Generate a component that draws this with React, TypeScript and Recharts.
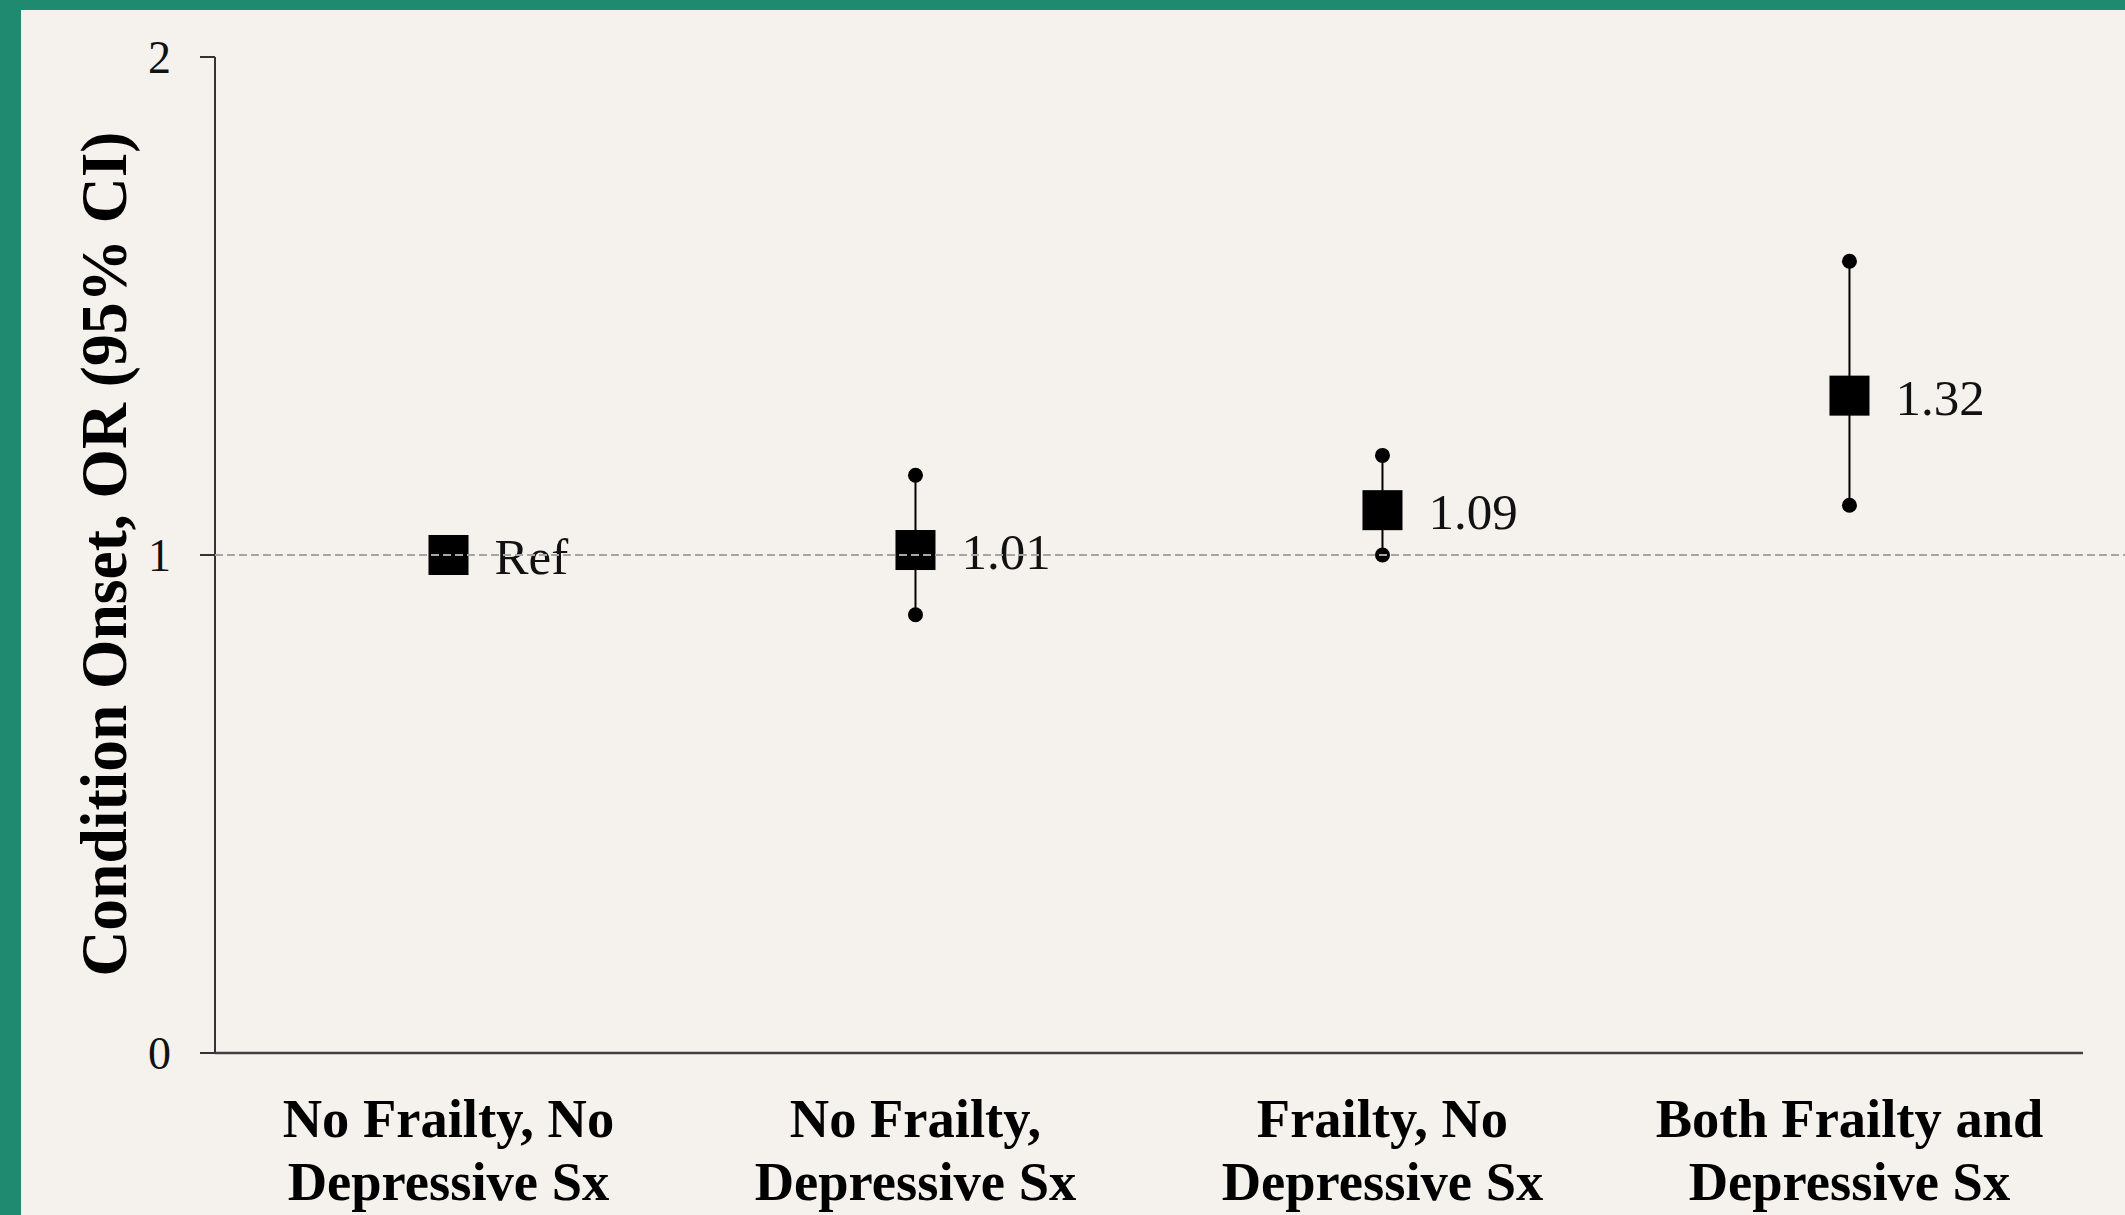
import React from 'react';
import { ScatterChart, Scatter, XAxis, YAxis, ReferenceLine, ErrorBar, Label } from 'recharts';

// ---- data ----
const categoryLine1 = ['No Frailty, No', 'No Frailty,', 'Frailty, No', 'Both Frailty and'];
const categoryLine2 = ['Depressive Sx', 'Depressive Sx', 'Depressive Sx', 'Depressive Sx'];
const oddsRatios = [1.0, 1.01, 1.09, 1.32];
const ciLower: (number | null)[] = [null, 0.88, 1.0, 1.1];
const ciUpper: (number | null)[] = [null, 1.16, 1.2, 1.59];
const pointLabels = ['Ref', '1.01', '1.09', '1.32'];
const yTicks = [0, 1, 2];
const yAxisTitle = 'Condition Onset, OR (95% CI)';
const referenceValue = 1;

// ---- derived tables ----
const categoryPos = categoryLine1.map((_, i) => i + 0.5);
const pointRows = oddsRatios.map((v, i) => ({ x: categoryPos[i], y: v, label: pointLabels[i] }));
const ciRows = oddsRatios
  .map((v, i) => ({
    x: categoryPos[i],
    y: v,
    err: ciLower[i] == null ? null : [v - (ciLower[i] as number), (ciUpper[i] as number) - v],
  }))
  .filter((r) => r.err != null);
const lowerRows = ciLower
  .map((v, i) => ({ x: categoryPos[i], y: v }))
  .filter((r) => r.y != null);
const upperRows = ciUpper
  .map((v, i) => ({ x: categoryPos[i], y: v }))
  .filter((r) => r.y != null);

const SERIF = '"Liberation Serif", "Times New Roman", serif';
const GREEN = '#1F8A70';
const BG = '#F5F1ED';

const CategoryTick = (props: any) => {
  const { x, y, payload } = props;
  const idx = categoryPos.indexOf(payload.value);
  if (idx < 0) return null;
  return (
    <text
      x={x}
      y={y}
      textAnchor="middle"
      fontFamily={SERIF}
      fontWeight="bold"
      fontSize={54.5}
      fill="#000"
    >
      <tspan x={x} dy={76}>{categoryLine1[idx]}</tspan>
      <tspan x={x} dy={63}>{categoryLine2[idx]}</tspan>
    </text>
  );
};

const YTitle = (props: any) => {
  const vb = props.viewBox || { x: 0, y: 57, width: 215, height: 996 };
  const cx = vb.x + 126;
  const cy = vb.y + vb.height / 2 - 1;
  return (
    <text
      x={cx}
      y={cy}
      transform={`rotate(-90 ${cx} ${cy})`}
      textAnchor="middle"
      fontFamily={SERIF}
      fontWeight="bold"
      fontSize={66}
      textLength={845}
      lengthAdjust="spacingAndGlyphs"
      fill="#000"
    >
      {yAxisTitle}
    </text>
  );
};

const SquareShape = (props: any) => {
  const { cx, cy, payload } = props;
  if (cx == null || cy == null) return <g />;
  return (
    <g>
      <rect x={cx - 20} y={cy - 20} width={40} height={40} fill="#000" />
      <text x={cx + 46} y={cy + 19} fontFamily={SERIF} fontSize={51} fill="#111">
        {payload.label}
      </text>
    </g>
  );
};

const DotShape = (props: any) => {
  const { cx, cy } = props;
  if (cx == null || cy == null) return <g />;
  return <circle cx={cx} cy={cy} r={7.5} fill="#000" />;
};

const EmptyShape = () => <g />;

export default function App() {
  return (
    <div style={{ position: 'absolute', left: 0, top: 0, width: 2125, height: 1215, background: GREEN }}>
      <div style={{ position: 'absolute', left: 21, top: 10, width: 2104, height: 1205, background: BG }} />
      <div style={{ position: 'absolute', left: 0, top: 0 }}>
        <ScatterChart width={2125} height={1215} margin={{ top: 57, right: 0, bottom: 0, left: 0 }}>
          <XAxis
            type="number"
            dataKey="x"
            domain={[0, 4.09]}
            ticks={categoryPos}
            interval={0}
            axisLine={false}
            tickLine={false}
            height={162}
            tick={<CategoryTick />}
            allowDataOverflow
          />
          <YAxis
            type="number"
            dataKey="y"
            domain={[0, 2]}
            ticks={yTicks}
            interval={0}
            width={215}
            tickSize={15}
            tickMargin={29}
            axisLine={{ stroke: '#333', strokeWidth: 2 }}
            tickLine={{ stroke: '#333', strokeWidth: 2 }}
            tick={{ fontSize: 46, fill: '#111', fontFamily: SERIF }}
          >
            <Label content={<YTitle />} />
          </YAxis>
          <ReferenceLine
            segment={[{ x: 0, y: 0 }, { x: 4, y: 0 }]}
            stroke="#404040"
            strokeWidth={2.5}
            ifOverflow="visible"
          />
          <Scatter data={ciRows} shape={<EmptyShape />} isAnimationActive={false}>
            <ErrorBar dataKey="err" direction="y" width={0} stroke="#000" strokeWidth={2} isAnimationActive={false} />
          </Scatter>
          <Scatter data={lowerRows} shape={<DotShape />} isAnimationActive={false} />
          <Scatter data={upperRows} shape={<DotShape />} isAnimationActive={false} />
          <Scatter data={pointRows} shape={<SquareShape />} isAnimationActive={false} />
          <ReferenceLine
            y={referenceValue}
            stroke="#A6A6A6"
            strokeWidth={2}
            strokeDasharray="8 4"
            {...({ zIndex: 2000 } as any)}
          />
        </ScatterChart>
      </div>
    </div>
  );
}
